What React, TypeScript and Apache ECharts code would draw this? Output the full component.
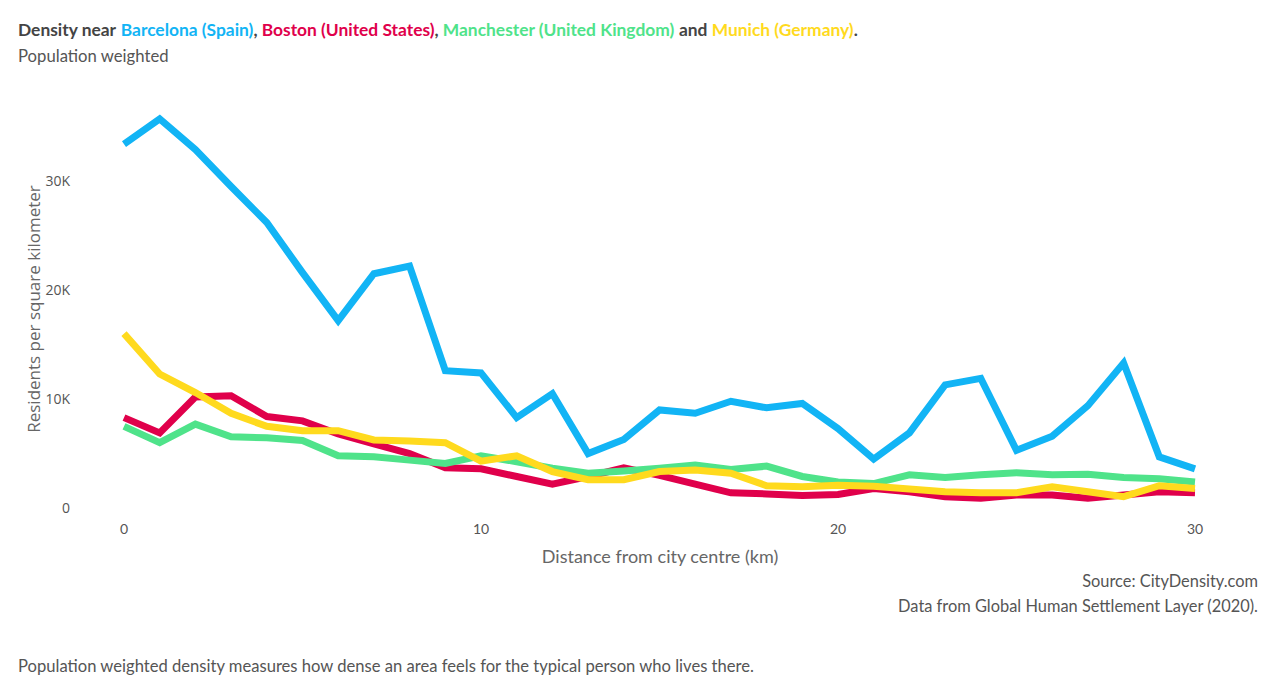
import React, { useEffect, useRef } from "react";
import * as echarts from "echarts";

const distances = Array.from({ length: 31 }, (_, i) => i);
const barcelona = [33.3, 35.6, 32.8, 29.4, 26.1, 21.5, 17.1, 21.4, 22.1, 12.5, 12.3, 8.2, 10.4, 4.9, 6.2, 8.9, 8.6, 9.7, 9.1, 9.5, 7.2, 4.4, 6.8, 11.2, 11.8, 5.2, 6.5, 9.3, 13.2, 4.6, 3.5].map((v) => v * 1000);
const boston = [8.2, 6.8, 10.1, 10.2, 8.3, 7.9, 6.7, 5.8, 4.9, 3.6, 3.5, 2.8, 2.1, 2.8, 3.6, 2.9, 2.1, 1.3, 1.2, 1.05, 1.15, 1.7, 1.4, 0.95, 0.8, 1.1, 1.1, 0.8, 1.1, 1.4, 1.3].map((v) => v * 1000);
const manchester = [7.4, 5.9, 7.6, 6.45, 6.35, 6.1, 4.7, 4.6, 4.3, 4.0, 4.7, 4.15, 3.55, 3.1, 3.3, 3.55, 3.85, 3.45, 3.75, 2.8, 2.3, 2.15, 2.95, 2.7, 2.95, 3.15, 2.95, 3.0, 2.7, 2.6, 2.3].map((v) => v * 1000);
const munich = [15.9, 12.2, 10.5, 8.6, 7.4, 7.0, 7.0, 6.15, 6.05, 5.9, 4.2, 4.7, 3.25, 2.5, 2.5, 3.25, 3.4, 3.1, 1.95, 1.85, 2.0, 1.9, 1.65, 1.4, 1.3, 1.3, 1.85, 1.4, 0.95, 1.95, 1.7].map((v) => v * 1000);

const seriesNames = ["Barcelona (Spain)", "Boston (United States)", "Manchester (United Kingdom)", "Munich (Germany)"];
const seriesColors = ["#12b4f5", "#e0004b", "#4fe38a", "#ffda1e"];
const yTicks = [0, 10000, 20000, 30000];
const yTickLabels = ["0", "10K", "20K", "30K"];

const FONT = "Lato, 'Noto Sans', sans-serif";
const OPEN = "'Open Sans', 'Noto Sans', sans-serif";

export default function App() {
  const ref = useRef<HTMLDivElement>(null);
  useEffect(() => {
    if (!ref.current) return;
    const chart = echarts.init(ref.current, null, { renderer: "svg" });
    const values = [barcelona, boston, manchester, munich];
    const TS = 17.4;
    const rs = (c: string) => ({ color: c, fontWeight: "bold", fontSize: TS, fontFamily: FONT });
    chart.setOption({
      animation: false,
      backgroundColor: "#ffffff",
      textStyle: { fontFamily: FONT },
      title: [
        {
          left: 13,
          top: 16,
          text:
            "{d|Density near }{b|" + seriesNames[0] + "}{d|, }{r|" + seriesNames[1] + "}{d|, }{g|" + seriesNames[2] + "}{d| and }{y|" + seriesNames[3] + "}{d|.}",
          textStyle: {
            fontFamily: FONT,
            fontSize: TS,
            fontWeight: "bold",
            rich: {
              d: rs("#444444"),
              b: rs(seriesColors[0]),
              r: rs(seriesColors[1]),
              g: rs(seriesColors[2]),
              y: rs(seriesColors[3]),
            },
          },
        },
        {
          left: 13,
          top: 42,
          text: "Population weighted",
          textStyle: { fontFamily: FONT, fontSize: 16.7, fontWeight: "normal", color: "#555555" },
        },
      ],
      grid: { left: 124, right: 72, top: 71, bottom: 180 },
      xAxis: {
        type: "value",
        min: 0,
        max: 30,
        interval: 10,
        axisLine: { show: false },
        axisTick: { show: false },
        splitLine: { show: false },
        axisLabel: { color: "#555555", fontSize: 14, margin: 14, fontFamily: FONT },
      },
      yAxis: {
        type: "value",
        min: 0,
        max: 40000,
        interval: 10000,
        axisLine: { show: false },
        axisTick: { show: false },
        splitLine: { show: false },
        axisLabel: {
          color: "#555555",
          fontSize: 14,
          margin: 54,
          fontFamily: OPEN,
          formatter: (v: number) => {
            const i = yTicks.indexOf(v);
            return i >= 0 ? yTickLabels[i] : "";
          },
        },
      },
      series: values.map((vals, k) => ({
        name: seriesNames[k],
        type: "line",
        data: distances.map((d, i) => [d, vals[i]]),
        showSymbol: false,
        clip: false,
        lineStyle: { color: seriesColors[k], width: 7, join: "miter" },
        itemStyle: { color: seriesColors[k] },
      })),
      graphic: [
        {
          type: "text",
          x: 33,
          y: 309,
          rotation: Math.PI / 2,
          style: { text: "Residents per square kilometer", fontSize: 17, fontFamily: OPEN, fill: "#666666", align: "center", verticalAlign: "middle" },
        },
        {
          type: "text",
          x: 660,
          y: 556,
          style: { text: "Distance from city centre (km)", fontSize: 18, fontFamily: FONT, fill: "#666666", align: "center", verticalAlign: "middle" },
        },
        {
          type: "text",
          x: 1258,
          y: 580,
          style: { text: "Source: CityDensity.com", fontSize: 16.4, fontFamily: FONT, fill: "#555555", align: "right", verticalAlign: "middle" },
        },
        {
          type: "text",
          x: 1258,
          y: 605,
          style: { text: "Data from Global Human Settlement Layer (2020).", fontSize: 16.4, fontFamily: FONT, fill: "#555555", align: "right", verticalAlign: "middle" },
        },
        {
          type: "text",
          x: 18,
          y: 666,
          style: { text: "Population weighted density measures how dense an area feels for the typical person who lives there.", fontSize: 16.6, fontFamily: FONT, fill: "#555555", align: "left", verticalAlign: "middle" },
        },
      ],
    });
    return () => chart.dispose();
  }, []);
  return <div ref={ref} style={{ width: 1267, height: 687, margin: -8 }} />;
}
